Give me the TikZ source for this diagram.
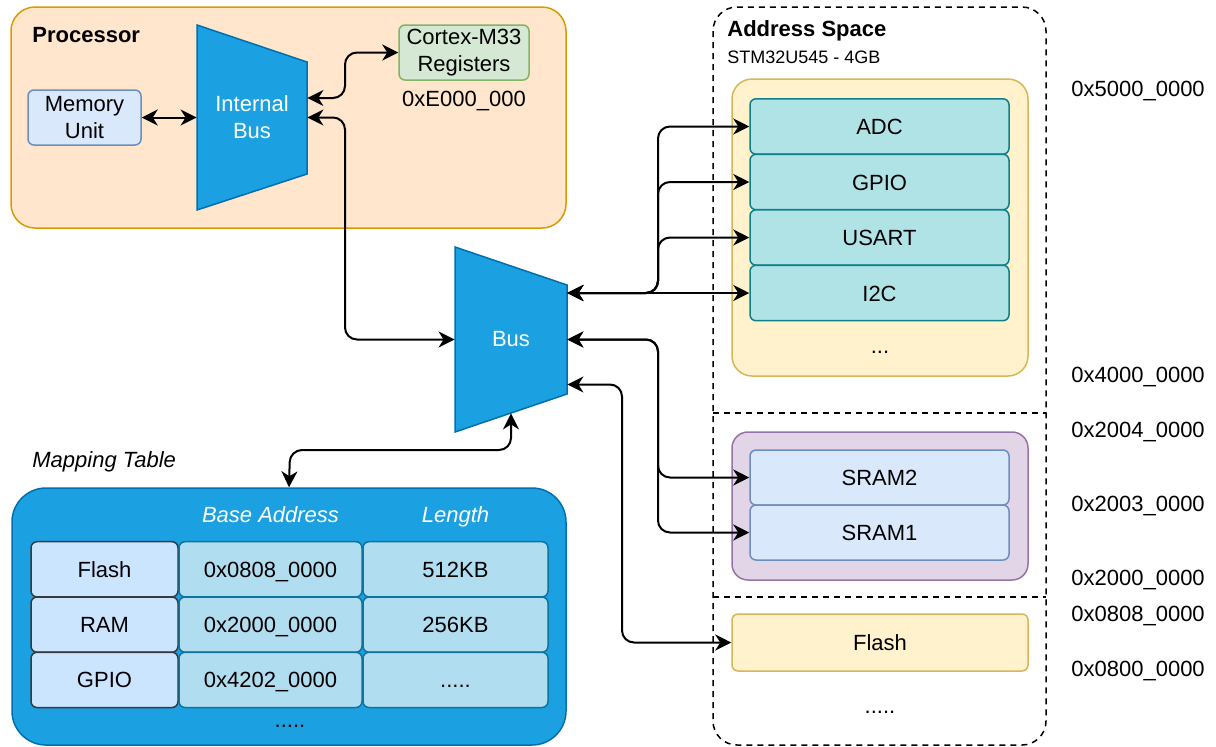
\documentclass[tikz,border=0pt]{standalone}
\usepackage{fontspec}
\setmainfont{Liberation Sans}
\usetikzlibrary{arrows.meta,calc}
\definecolor{procfill}{HTML}{FFE6CC}
\definecolor{procline}{HTML}{D79B00}
\definecolor{memfill}{HTML}{DAE8FC}
\definecolor{memline}{HTML}{6C8EBF}
\definecolor{regfill}{HTML}{D5E8D4}
\definecolor{regline}{HTML}{82B366}
\definecolor{busfill}{HTML}{1BA1E2}
\definecolor{busline}{HTML}{006EAF}
\definecolor{namefill}{HTML}{CCE5FF}
\definecolor{nameline}{HTML}{36393D}
\definecolor{cellfill}{HTML}{B1DDF0}
\definecolor{cellline}{HTML}{10739E}
\definecolor{perfill}{HTML}{FFF2CC}
\definecolor{perline}{HTML}{D6B656}
\definecolor{tealfill}{HTML}{B0E3E6}
\definecolor{tealline}{HTML}{0E8088}
\definecolor{purfill}{HTML}{E1D5E7}
\definecolor{purline}{HTML}{9673A6}
\newcommand{\moredots}{.....}

\begin{document}
\begin{tikzpicture}[x=0.5pt, y=-0.5pt,
		font=\fontsize{11}{13.5}\selectfont,
		txt/.style={text height=8pt, text depth=0pt},
		box/.style={draw, rounded corners=3pt, line width=0.75pt, align=center, inner sep=0pt},
		memory/.style={box, fill=memfill, draw=memline},
		periph/.style={box, txt, fill=tealfill, draw=tealline, minimum width=129.5pt, minimum height=27.7pt},
		namecell/.style={box, txt, fill=namefill, draw=nameline, minimum height=27.6pt},
		cell/.style={box, txt, fill=cellfill, draw=cellline, minimum height=27.6pt},
		busshape/.style={fill=busfill, draw=busline, line width=0.75pt},
		busname/.style={text=white, align=center, inner sep=0pt},
		group/.style={line width=0.75pt, rounded corners=10pt},
		dashline/.style={line width=0.75pt, dash pattern=on 3pt off 2.5pt},
		link/.style={line width=1pt, rounded corners=6pt, {Stealth[length=8pt,width=8pt,inset=2.5pt]}-{Stealth[length=8pt,width=8pt,inset=2.5pt]}},
		addr/.style={txt, anchor=west, inner sep=0pt}
	]
	\useasboundingbox (0,0) rectangle (1216,746);
	\draw[group, fill=procfill, draw=procline, rounded corners=12pt] (11,7) rectangle (566,228);
	\node[txt, anchor=west, inner sep=0pt, font=\fontsize{11}{13.5}\selectfont\bfseries] (proctitle) at (32,34) {Processor};
	\node[memory, minimum width=56.5pt, minimum height=27.5pt] (mem) at (84.5,117.5) {Memory\\Unit};
	\filldraw[busshape] (197,25) -- (307,62) -- (307,174) -- (197,210) -- cycle;
	\node[busname, minimum width=55pt, minimum height=92.5pt] (ibus) at (252,117.5) {Internal\\Bus};
	\node[box, fill=regfill, draw=regline, minimum width=65pt, minimum height=27.5pt] (regs) at (464,52.5) {Cortex-M33\\Registers};
	\node[txt, inner sep=0pt] (regaddr) at (464,98) {0xE000\_000};

	\filldraw[busshape] (455,247) -- (567,285) -- (567,394) -- (455,432) -- cycle;
	\node[busname, minimum width=56pt, minimum height=92.5pt] (bus) at (511,339.5) {Bus};

	\node[txt, anchor=west, inner sep=0pt, font=\fontsize{11}{13.5}\selectfont\itshape] (maptitle) at (32,459) {Mapping Table};
	\node[draw=busline, fill=busfill, line width=0.75pt, rounded corners=17pt, minimum width=277pt, minimum height=128.5pt] (maptab) at (289,616.5) {};
	\node[txt, text=white, font=\fontsize{11}{13.5}\selectfont\itshape] (hbase) at (270.5,514) {Base Address};
	\node[txt, text=white, font=\fontsize{11}{13.5}\selectfont\itshape] (hlen) at (455.5,514) {Length};
	\foreach \name/\base/\len [count=\r] in {Flash/0x0808\_0000/512KB, RAM/0x2000\_0000/256KB, GPIO/0x4202\_0000/\moredots}
		{
			\node[namecell, minimum width=73.5pt] (name\r) at (104.5,514+55.3*\r) {\name};
			\node[cell, minimum width=91.5pt] (base\r) at (270.5,514+55.3*\r) {\base};
			\node[cell, minimum width=92.5pt] (len\r) at (455.5,514+55.3*\r) {\len};
		}
	\node[txt] (mapmore) at (290,719) {\moredots};

	\draw[group, dashline, rounded corners=12pt] (713,7) rectangle (1046,745);
	\draw[dashline] (713,413) -- (1046,413);
	\draw[dashline] (713,597) -- (1046,597);
	\node[txt, anchor=west, inner sep=0pt, font=\fontsize{11}{13.5}\selectfont\bfseries] (astitle) at (727,28) {Address Space};
	\node[anchor=west, inner sep=0pt, font=\fontsize{9}{11}\selectfont] (assub) at (727,57) {STM32U545 - 4GB};

	\draw[group, fill=perfill, draw=perline] (732,79) rectangle (1028,376);
	\foreach \p [count=\i] in {ADC, GPIO, USART, I2C}
		\node[periph] (\p) at (879.5,71+55.5*\i) {\p};
	\node[txt] (permore) at (880,345) {...};

	\draw[group, fill=purfill, draw=purline, rounded corners=8pt] (732,432) rectangle (1028,580);
	\node[memory, txt, minimum width=129.5pt, minimum height=27.5pt] (SRAM2) at (879.5,477.5) {SRAM2};
	\node[memory, txt, minimum width=129.5pt, minimum height=27.5pt] (SRAM1) at (879.5,532.5) {SRAM1};

	\node[box, txt, fill=perfill, draw=perline, minimum width=148pt, minimum height=28.5pt] (flash) at (880,642.5) {Flash};
	\node[txt] (flashmore) at (880,705) {\moredots};

	\node[addr] (a5000) at (1071,88) {0x5000\_0000};
	\node[addr] (a4000) at (1071,374) {0x4000\_0000};
	\node[addr] (a2004) at (1071,429) {0x2004\_0000};
	\node[addr] (a2003) at (1071,503) {0x2003\_0000};
	\node[addr] (a2000) at (1071,577) {0x2000\_0000};
	\node[addr] (a0808) at (1071,613) {0x0808\_0000};
	\node[addr] (a0800) at (1071,668) {0x0800\_0000};

	\coordinate (ibusreg) at ($(ibus.east)+(0,-19.5)$);
	\coordinate (busA) at ($(bus.east)+(0,-46.5)$);
	\coordinate (busC) at ($(bus.east)+(0,45)$);
	\coordinate (busbot) at ($(bus.south)+(0,-19)$);
	\draw[link] (mem.east) -- (ibus.west);
	\draw[link] (ibusreg) -- (345,98) |- (regs.west);
	\draw[link] (ibus.east) -- (345,117.5) |- (bus.west);
	\foreach \p in {ADC, GPIO, USART}
		\draw[link] (busA) -- (658,293) |- (\p.west);
	\draw[link] (busA) -- (I2C.west);
	\foreach \s in {SRAM2, SRAM1}
		\draw[link] (bus.east) -- (658,339.5) |- (\s.west);
	\draw[link] (busC) -- (622,384.5) |- (flash.west);
	\draw[link] (maptab.north) -- (290,450) -| (busbot);
\end{tikzpicture}
\end{document}
